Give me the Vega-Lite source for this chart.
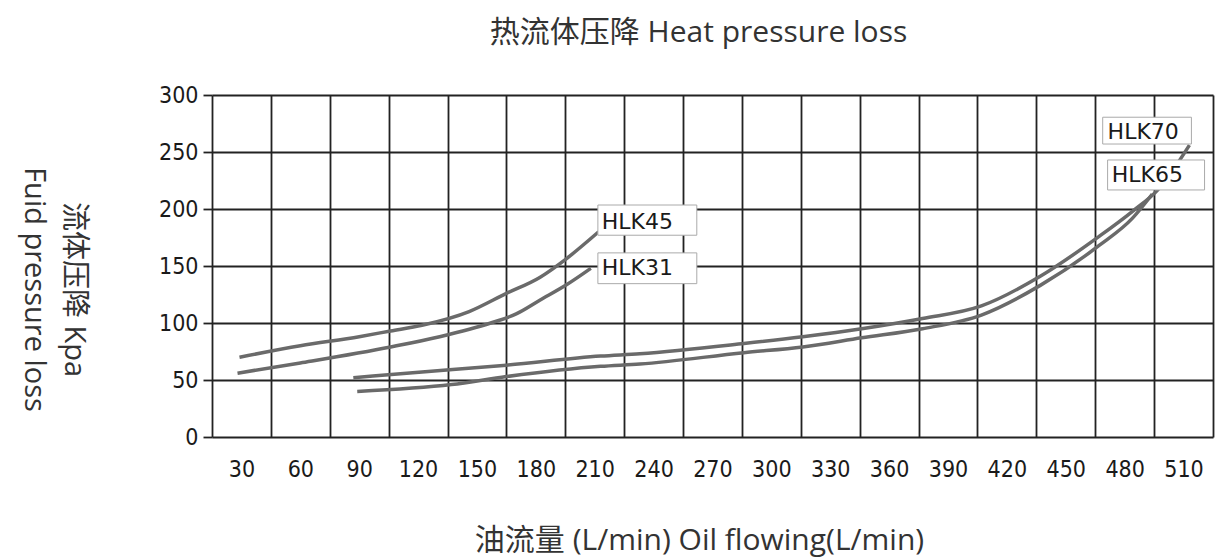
{
  "$schema": "https://vega.github.io/schema/vega-lite/v6.json",
  "width": 1001,
  "height": 342,
  "autosize": "none",
  "padding": {"left": 212, "top": 95, "right": 5, "bottom": 121},
  "background": "white",
  "title": {
    "text": "热流体压降 Heat pressure loss",
    "font": "Open Sans, Noto Sans CJK SC, sans-serif",
    "fontSize": 30,
    "fontWeight": "normal",
    "color": "#333",
    "baseline": "alphabetic",
    "offset": 12,
    "dx": -14
  },
  "datasets": {
    "curves": [
      {"series": "HLK45", "flow": 29, "kpa": 70},
      {"series": "HLK45", "flow": 60, "kpa": 80},
      {"series": "HLK45", "flow": 90, "kpa": 88},
      {"series": "HLK45", "flow": 106, "kpa": 93},
      {"series": "HLK45", "flow": 122, "kpa": 98},
      {"series": "HLK45", "flow": 146, "kpa": 110},
      {"series": "HLK45", "flow": 165, "kpa": 126},
      {"series": "HLK45", "flow": 182, "kpa": 140},
      {"series": "HLK45", "flow": 196, "kpa": 157},
      {"series": "HLK45", "flow": 212, "kpa": 180},
      {"series": "HLK31", "flow": 28, "kpa": 56},
      {"series": "HLK31", "flow": 60, "kpa": 65},
      {"series": "HLK31", "flow": 106, "kpa": 79},
      {"series": "HLK31", "flow": 131, "kpa": 88},
      {"series": "HLK31", "flow": 157, "kpa": 100},
      {"series": "HLK31", "flow": 170, "kpa": 108},
      {"series": "HLK31", "flow": 182, "kpa": 120},
      {"series": "HLK31", "flow": 196, "kpa": 134},
      {"series": "HLK31", "flow": 208, "kpa": 148},
      {"series": "HLK70", "flow": 87, "kpa": 52},
      {"series": "HLK70", "flow": 122, "kpa": 57},
      {"series": "HLK70", "flow": 165, "kpa": 63},
      {"series": "HLK70", "flow": 213, "kpa": 71},
      {"series": "HLK70", "flow": 233, "kpa": 73},
      {"series": "HLK70", "flow": 286, "kpa": 82},
      {"series": "HLK70", "flow": 316, "kpa": 88},
      {"series": "HLK70", "flow": 346, "kpa": 95},
      {"series": "HLK70", "flow": 377, "kpa": 104},
      {"series": "HLK70", "flow": 407, "kpa": 115},
      {"series": "HLK70", "flow": 437, "kpa": 141},
      {"series": "HLK70", "flow": 467, "kpa": 176},
      {"series": "HLK70", "flow": 484, "kpa": 198},
      {"series": "HLK70", "flow": 497, "kpa": 217},
      {"series": "HLK70", "flow": 513, "kpa": 256},
      {"series": "HLK65", "flow": 89, "kpa": 40},
      {"series": "HLK65", "flow": 137, "kpa": 46},
      {"series": "HLK65", "flow": 165, "kpa": 53},
      {"series": "HLK65", "flow": 213, "kpa": 62},
      {"series": "HLK65", "flow": 233, "kpa": 64},
      {"series": "HLK65", "flow": 286, "kpa": 74},
      {"series": "HLK65", "flow": 316, "kpa": 79},
      {"series": "HLK65", "flow": 346, "kpa": 87},
      {"series": "HLK65", "flow": 377, "kpa": 95},
      {"series": "HLK65", "flow": 407, "kpa": 107},
      {"series": "HLK65", "flow": 437, "kpa": 133},
      {"series": "HLK65", "flow": 467, "kpa": 168},
      {"series": "HLK65", "flow": 484, "kpa": 192},
      {"series": "HLK65", "flow": 494, "kpa": 213}
    ],
    "labels": [
      {"label": "HLK45", "lx": 213.6, "ly": 189, "bx0": 211.6, "bx1": 262, "by0": 177, "by1": 203.5},
      {"label": "HLK31", "lx": 213.6, "ly": 148, "bx0": 211.6, "bx1": 262, "by0": 134.5, "by1": 161.5},
      {"label": "HLK70", "lx": 471.3, "ly": 267.5, "bx0": 468.8, "bx1": 514, "by0": 257, "by1": 280.5},
      {"label": "HLK65", "lx": 473.4, "ly": 230, "bx0": 471.3, "bx1": 520.7, "by0": 216.7, "by1": 243}
    ]
  },
  "layer": [
    {
      "data": {"name": "curves"},
      "mark": {"type": "line", "interpolate": "monotone", "strokeWidth": 3.5, "color": "#6a6a6a"},
      "encoding": {
        "x": {
          "field": "flow",
          "type": "quantitative",
          "scale": {"domain": [15, 525], "nice": false, "zero": false},
          "axis": {
            "values": [15, 45, 75, 105, 135, 165, 195, 225, 255, 285, 315, 345, 375, 405, 435, 465, 495, 525],
            "labelExpr": "datum.value < 520 ? '' + (datum.value + 15) : ''",
            "labelOffset": 29.4,
            "labelPadding": 21,
            "labelFont": "DejaVu Sans Condensed, DejaVu Sans, sans-serif",
            "labelFontSize": 23,
            "labelColor": "#1a1a1a",
            "labelOverlap": false,
            "labelFlush": false,
            "ticks": false,
            "domain": false,
            "grid": true,
            "gridColor": "#222",
            "gridWidth": 1.8,
            "gridOpacity": 1,
            "title": "油流量 (L/min) Oil flowing(L/min)",
            "titleFont": "Open Sans, Noto Sans CJK SC, sans-serif",
            "titleFontSize": 30,
            "titleFontWeight": "normal",
            "titleColor": "#333",
            "titlePadding": 44,
            "titleX": 487
          }
        },
        "y": {
          "field": "kpa",
          "type": "quantitative",
          "scale": {"domain": [0, 300], "nice": false, "zero": true},
          "axis": {
            "values": [0, 50, 100, 150, 200, 250, 300],
            "labelPadding": 5,
            "labelFont": "DejaVu Sans Condensed, DejaVu Sans, sans-serif",
            "labelFontSize": 23,
            "labelColor": "#1a1a1a",
            "labelFlush": false,
            "ticks": true,
            "tickSize": 9,
            "tickColor": "#222",
            "tickWidth": 1.8,
            "domain": false,
            "grid": true,
            "gridColor": "#222",
            "gridWidth": 1.8,
            "gridOpacity": 1,
            "title": ["流体压降 Kpa", "Fuid pressure loss"],
            "titleFont": "Open Sans, Noto Sans CJK SC, sans-serif",
            "titleFontSize": 29,
            "titleFontWeight": "normal",
            "titleColor": "#333",
            "titleAngle": 90,
            "titleAlign": "center",
            "titleBaseline": "middle",
            "titleLineHeight": 40,
            "titleX": -139,
            "titleY": 194
          }
        },
        "detail": {"field": "series", "type": "nominal"}
      }
    },
    {
      "data": {"name": "labels"},
      "mark": {"type": "rect", "fill": "white", "stroke": "#aaaaaa", "strokeWidth": 1},
      "encoding": {
        "x": {"field": "bx0", "type": "quantitative"},
        "x2": {"field": "bx1"},
        "y": {"field": "by0", "type": "quantitative"},
        "y2": {"field": "by1"}
      }
    },
    {
      "data": {"name": "labels"},
      "mark": {"type": "text", "align": "left", "baseline": "middle", "font": "DejaVu Sans, sans-serif", "fontSize": 22, "color": "#1a1a1a"},
      "encoding": {
        "x": {"field": "lx", "type": "quantitative"},
        "y": {"field": "ly", "type": "quantitative"},
        "text": {"field": "label"}
      }
    }
  ],
  "config": {"view": {"stroke": null}}
}
